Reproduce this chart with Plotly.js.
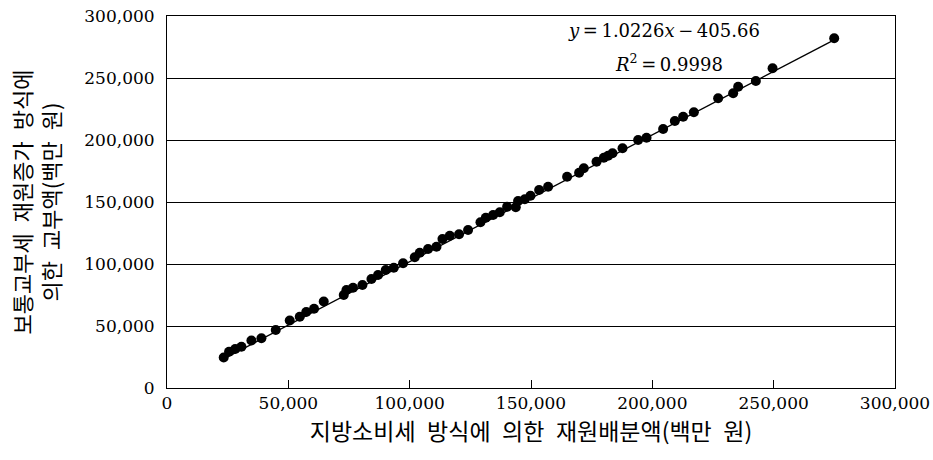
<!DOCTYPE html>
<html>
<head>
<meta charset="utf-8">
<script src="https://cdn.plot.ly/plotly-3.0.1.min.js"></script>
<style>html,body{margin:0;padding:0;background:#fff;}#chart{width:933px;height:460px;}</style>
</head>
<body>
<div id="chart"></div>
<script>
// 지방소비세 방식에 의한 재원배분액 (백만 원)
const xValues = [23370, 25560, 28110, 30670, 34790, 38910, 44810, 50580, 54700, 57380,
  60590, 64590, 72840, 73950, 76670, 80540, 84250, 86970, 90150, 93450,
  97280, 102100, 104160, 107580, 111050, 113520, 116530, 120360, 124070, 129180,
  131370, 134380, 137140, 140150, 143730, 144680, 147440, 149790, 153340, 157050,
  164880, 169830, 171760, 177000, 180010, 181780, 183590, 187720, 194150, 197610,
  204450, 209270, 212700, 217110, 227120, 233310, 235370, 242660, 249550, 274940];
// 보통교부세 재원증가 방식에 의한 교부액 (백만 원)
const yValues = [24600, 29280, 31450, 33310, 38310, 40080, 46780, 54440, 57500, 61290,
  63950, 69760, 75000, 79040, 80890, 83070, 87910, 91130, 95170, 97020,
  100570, 105410, 109120, 112100, 113960, 120170, 122830, 123960, 127430, 133640,
  137350, 139520, 141700, 146220, 145730, 150820, 152190, 155090, 159690, 162350,
  170410, 173640, 177190, 182510, 185740, 187350, 189280, 193320, 200010, 201870,
  208880, 215340, 218800, 222350, 233640, 237680, 243000, 247600, 257840, 282030];
const slope = 1.0226;
const intercept = -405.66;
const tickVals = [0, 50000, 100000, 150000, 200000, 250000, 300000];
const SP = '\u2002';
const xTitle = ['지방소비세', '방식에', '의한', '재원배분액(백만', '원)'].join(SP);
const yTitle = ['보통교부세', '재원증가', '방식에'].join(SP) + '<br>' + ['의한', '교부액(백만', '원)'].join(SP);
const eqText = '<i>y</i>\u2009=\u20091.0226<i>x</i>\u2009\u2212\u2009405.66';
const r2Text = '<i>R</i><sup>2</sup>\u2009=\u20090.9998';

const xMin = Math.min(...xValues), xMax = Math.max(...xValues);
const trendX = [xMin, xMax];
const trendY = trendX.map(v => slope * v + intercept);

const numFont = 'DejaVu Serif, Liberation Serif, serif';
const krFont = 'Noto Sans CJK KR, sans-serif';

const traces = [
  {x: trendX, y: trendY, mode: 'lines', line: {color: '#000', width: 1.3}, hoverinfo: 'skip', showlegend: false},
  {x: xValues, y: yValues, mode: 'markers', marker: {color: '#000', size: 10}, showlegend: false}
];

const layout = {
  width: 933, height: 460,
  margin: {l: 167, r: 38, t: 16, b: 72},
  paper_bgcolor: '#fff', plot_bgcolor: '#fff',
  font: {family: numFont, size: 17, color: '#000'},
  xaxis: {
    range: [0, 300000], tickvals: tickVals, tickformat: ',d',
    showline: true, linecolor: '#000', linewidth: 1, mirror: true,
    ticks: 'inside', ticklen: 8, tickcolor: '#000', tickwidth: 1,
    showgrid: false, zeroline: false,
    tickfont: {family: numFont, size: 17, color: '#000'},
    title: {text: xTitle, font: {family: krFont, size: 23, color: '#000'}, standoff: 10}
  },
  yaxis: {
    range: [0, 300000], tickvals: tickVals, tickformat: ',d',
    showline: true, linecolor: '#000', linewidth: 1, mirror: true,
    ticks: '', showgrid: true, gridcolor: '#000', gridwidth: 1, zeroline: false,
    tickfont: {family: numFont, size: 17, color: '#000'},
    ticklabelstandoff: 8,
    title: {text: yTitle, font: {family: krFont, size: 22, color: '#000'}, standoff: 17}
  },
  annotations: [
    {xref: 'paper', yref: 'paper', x: 0.683, y: 0.96, text: eqText, showarrow: false,
     xanchor: 'center', yanchor: 'middle', font: {family: numFont, size: 18, color: '#000'}},
    {xref: 'paper', yref: 'paper', x: 0.690, y: 0.874, text: r2Text, showarrow: false,
     xanchor: 'center', yanchor: 'middle', font: {family: numFont, size: 18, color: '#000'}}
  ]
};

Plotly.newPlot('chart', traces, layout, {staticPlot: true, displayModeBar: false});
</script>
</body>
</html>
